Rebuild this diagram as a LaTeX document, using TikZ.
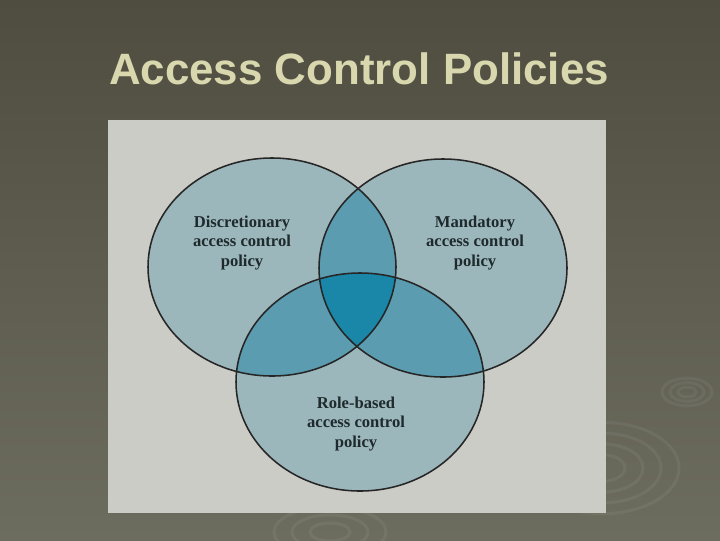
\documentclass[tikz,border=0pt]{standalone}
\usepackage{fontspec}
\setmainfont{Liberation Serif}
\newfontfamily\titlefont{Liberation Sans}
\usetikzlibrary{positioning, calc}

\definecolor{slidetop}{HTML}{4F4D40}
\definecolor{slidebottom}{HTML}{6C6C5F}
\definecolor{titletext}{HTML}{D8D7AE}
\definecolor{panel}{HTML}{CCCCC6}
\definecolor{setfill}{HTML}{9CB7BC}
\definecolor{pairfill}{HTML}{5B9CB0}
\definecolor{corefill}{HTML}{1A87A8}
\definecolor{labeltext}{HTML}{1E2A2C}

\tikzset{
    setshape/.style={x radius=124, y radius=109},
    setline/.style={draw=black!85, line width=1.1pt},
    setlabel/.style={align=center, text=labeltext, font=\fontsize{11.8}{13.6}\selectfont\bfseries},
    ripple/.style={draw=white, draw opacity=0.055, line width=2.2pt}
}

\begin{document}
\begin{tikzpicture}[x=0.025cm, y=-0.025cm]
    % slide background
    \shade[top color=slidetop, bottom color=slidebottom] (0,0) rectangle (720,540);
    \useasboundingbox (0,0) rectangle (720,540);

    % ripples
    \coordinate (rip1) at (687,392);
    \coordinate (rip2) at (603,468);
    \coordinate (rip3) at (330,532);
    \foreach \r in {9,17,25}
        \draw[ripple] (rip1) ellipse [x radius=\r, y radius=0.55*\r];
    \foreach \r in {22,40,58,76}
        \draw[ripple] (rip2) ellipse [x radius=\r, y radius=0.6*\r];
    \foreach \r in {20,38,56}
        \draw[ripple] (rip3) ellipse [x radius=\r, y radius=0.45*\r];

    \node[font=\titlefont\fontsize{31.2}{36}\selectfont\bfseries, text=titletext] (title) at (359,69) {Access Control Policies};

    % panel
    \fill[panel] (108,120) rectangle (606,513);

    \coordinate (dac) at (272,267);
    \coordinate (mac) at (443,268);
    \coordinate (rbac) at (360,382);

    % sets
    \fill[setfill] (dac) ellipse [setshape];
    \fill[setfill] (mac) ellipse [setshape];
    \fill[setfill] (rbac) ellipse [setshape];

    % pairwise overlaps
    \begin{scope}
        \clip (dac) ellipse [setshape];
        \fill[pairfill] (mac) ellipse [setshape];
        \fill[pairfill] (rbac) ellipse [setshape];
    \end{scope}
    \begin{scope}
        \clip (mac) ellipse [setshape];
        \fill[pairfill] (rbac) ellipse [setshape];
    \end{scope}

    % all three
    \begin{scope}
        \clip (dac) ellipse [setshape];
        \clip (mac) ellipse [setshape];
        \fill[corefill] (rbac) ellipse [setshape];
    \end{scope}

    \draw[setline] (dac) ellipse [setshape];
    \draw[setline] (mac) ellipse [setshape];
    \draw[setline] (rbac) ellipse [setshape];

    \node[setlabel] (daclabel) at (242,243) {Discretionary\\access control\\policy};
    \node[setlabel] (maclabel) at (475,243) {Mandatory\\access control\\policy};
    \node[setlabel] (rbaclabel) at (356,424) {Role-based\\access control\\policy};
\end{tikzpicture}
\end{document}
